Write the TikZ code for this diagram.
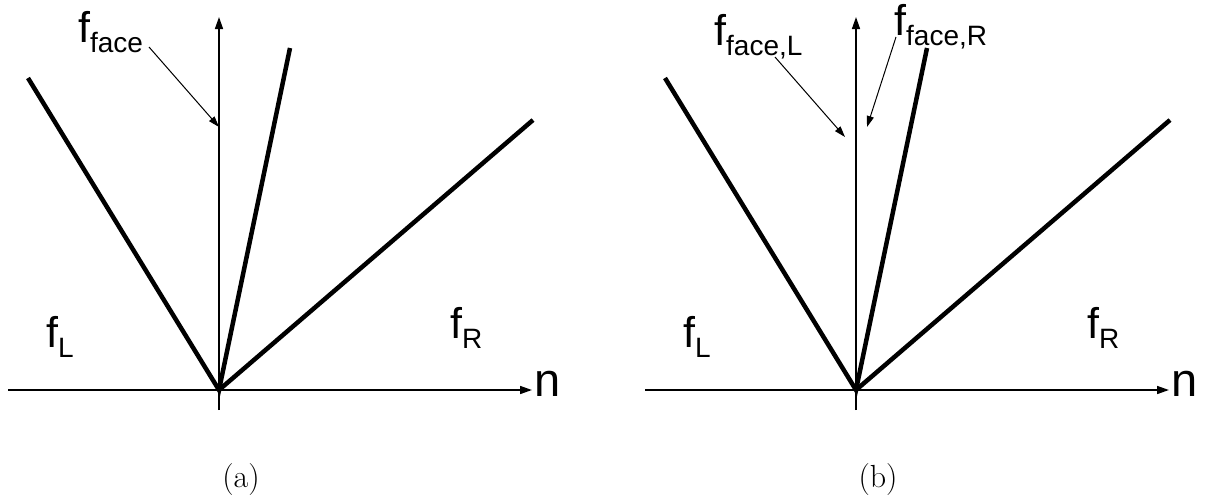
\documentclass[tikz,border=0pt]{standalone}
\usepackage{fontspec}
\newfontfamily\arialf{Liberation Sans}
\usetikzlibrary{arrows.meta}
\tikzset{
  axis/.style={line width=1.5pt,-{Triangle[length=12pt,width=8pt]}},
  ray/.style={line width=4.5pt},
  lblarrow/.style={line width=1pt,-{Triangle[length=11pt,width=7pt]}},
  lbl/.style={inner sep=0pt,anchor=base west,font=\arialf\fontsize{43}{43}\selectfont},
  nlbl/.style={inner sep=0pt,anchor=base west,font=\arialf\fontsize{47}{47}\selectfont},
  captionlbl/.style={inner sep=0pt,anchor=base,font=\fontsize{32}{38}\selectfont}
}
\newcommand{\sbx}[1]{\raisebox{-10pt}{\fontsize{28}{28}\selectfont #1}}
\begin{document}
\begin{tikzpicture}[x=1pt,y=-1pt]
\useasboundingbox (0,0) rectangle (1205,499);
% ---------- panel (a)
\coordinate (oA) at (219,390);
\coordinate (hA0) at (8,390);
\coordinate (hA1) at (532,390);
\coordinate (vA0) at (219,410);
\coordinate (vA1) at (219,17);
\coordinate (lA) at (28,78);
\coordinate (sA) at (290,48);
\coordinate (rA) at (533,120);
\coordinate (fA0) at (149,47);
\coordinate (fA1) at (219,127);
\draw[axis] (hA0) -- (hA1);
\draw[axis] (vA0) -- (vA1);
\draw[ray] (lA) -- (oA) -- (sA);
\draw[ray] (oA) -- (rA);
\draw[lblarrow] (fA0) -- (fA1);
\node[lbl] (ffA) at (78,42) {f\sbx{face}};
\node[lbl] (fLA) at (46,347) {f\sbx{L}};
\node[lbl] (fRA) at (450,338) {f\sbx{R}};
\node[nlbl] (nA) at (534,396) {n};
\node[captionlbl] (capA) at (241,487) {(a)};
% ---------- panel (b)
\coordinate (oB) at (856,390);
\coordinate (hB0) at (645,390);
\coordinate (hB1) at (1169,390);
\coordinate (vB0) at (856,410);
\coordinate (vB1) at (856,17);
\coordinate (lB) at (665,78);
\coordinate (sB) at (927,48);
\coordinate (rB) at (1170,120);
\coordinate (fLB0) at (775,57);
\coordinate (fLB1) at (845,137);
\coordinate (fRB0) at (896,37);
\coordinate (fRB1) at (867,127);
\draw[axis] (hB0) -- (hB1);
\draw[axis] (vB0) -- (vB1);
\draw[ray] (lB) -- (oB) -- (sB);
\draw[ray] (oB) -- (rB);
\draw[lblarrow] (fLB0) -- (fLB1);
\draw[lblarrow] (fRB0) -- (fRB1);
\node[lbl] (ffLB) at (714,45) {f\sbx{face,L}};
\node[lbl] (ffRB) at (894,35) {f\sbx{face,R}};
\node[lbl] (fLB) at (683,347) {f\sbx{L}};
\node[lbl] (fRB) at (1087,338) {f\sbx{R}};
\node[nlbl] (nB) at (1171,396) {n};
\node[captionlbl] (capB) at (878,487) {(b)};
\end{tikzpicture}
\end{document}
